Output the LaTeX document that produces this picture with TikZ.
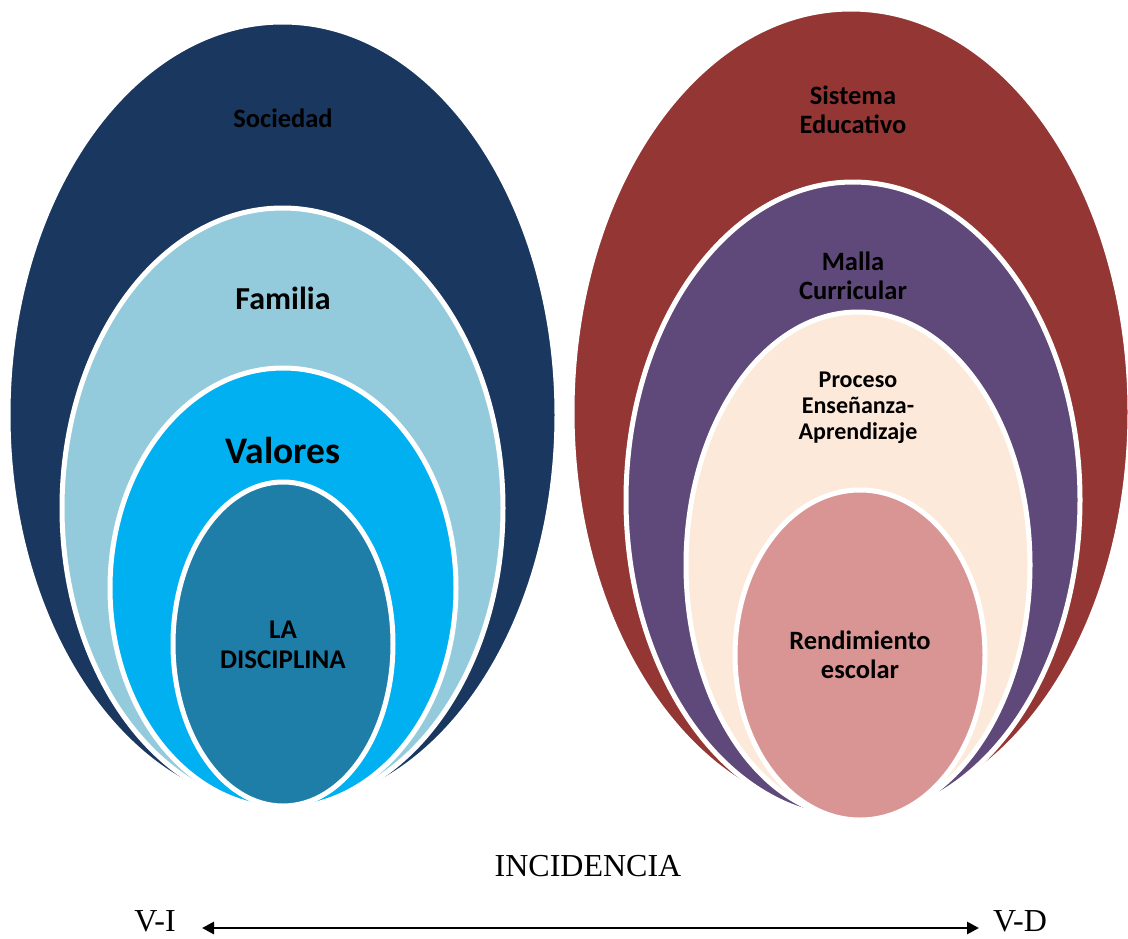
\documentclass[tikz,border=0pt]{standalone}
\usepackage{fontspec}
\setmainfont{Liberation Serif}
\newfontfamily\calib{Carlito}
\usetikzlibrary{shapes.geometric,arrows.meta}
\definecolor{cNavy}{HTML}{19375F}
\definecolor{cLight}{HTML}{93CBDC}
\definecolor{cCyan}{HTML}{00B0F0}
\definecolor{cDisc}{HTML}{1F7EA8}
\definecolor{cRed}{HTML}{943634}
\definecolor{cPurple}{HTML}{5F497A}
\definecolor{cPeach}{HTML}{FDE9D9}
\definecolor{cPink}{HTML}{D99594}
\tikzset{
  oval/.style={ellipse, draw=white, line width=5pt, inner sep=0pt},
  lbl/.style={font=\calib\bfseries, align=center, text=black},
  serif/.style={font=\fontsize{32}{36}\selectfont, inner sep=0pt}
}
\begin{document}
\begin{tikzpicture}[x=1pt,y=-1pt]
\useasboundingbox (0,0) rectangle (1128,938);
% left group
\node[oval, fill=cNavy, minimum width=549pt, minimum height=786pt] (soc) at (282.5,415) {};
\node[oval, fill=cLight, minimum width=441pt, minimum height=600pt] (fam) at (282.5,508) {};
\node[oval, fill=cCyan, minimum width=346pt, minimum height=440pt] (val) at (283,588) {};
\node[oval, fill=cDisc, minimum width=220pt, minimum height=324pt] (dis) at (283,644) {};
% right group
\node[oval, fill=cRed, minimum width=558pt, minimum height=806pt] (sis) at (851,412) {};
\node[oval, fill=cPurple, minimum width=454pt, minimum height=636pt] (mal) at (853,500) {};
\node[oval, fill=cPeach, minimum width=344pt, minimum height=506pt] (pro) at (858,565) {};
\node[oval, fill=cPink, minimum width=250pt, minimum height=330pt] (ren) at (860,655) {};
% labels
\node[lbl, font=\calib\bfseries\fontsize{26.5}{29}\selectfont] (tsoc) at (283,118) {Sociedad};
\node[lbl, font=\calib\bfseries\fontsize{32}{35}\selectfont] (tfam) at (283,298) {Familia};
\node[lbl, font=\calib\bfseries\fontsize{37.5}{40}\selectfont] (tval) at (283,450) {Valores};
\node[lbl, font=\calib\bfseries\fontsize{27}{30}\selectfont] (tdis) at (283,645) {LA\\DISCIPLINA};
\node[lbl, font=\calib\bfseries\fontsize{26.5}{29}\selectfont] (tsis) at (853,110) {Sistema\\Educativo};
\node[lbl, font=\calib\bfseries\fontsize{26.5}{29}\selectfont] (tmal) at (853,276) {Malla\\Curricular};
\node[lbl, font=\calib\bfseries\fontsize{24}{26}\selectfont] (tpro) at (858,408) {Proceso\\Enseñanza-\\Aprendizaje};
\node[lbl, font=\calib\bfseries\fontsize{26.5}{29}\selectfont] (tren) at (860,655) {Rendimiento\\escolar};
% bottom
\node[serif] (inc) at (588,866) {INCIDENCIA};
\node[serif] (vi) at (155,921) {V-I};
\node[serif] (vd) at (1020,921) {V-D};
\coordinate (a1) at (202,928);
\coordinate (a2) at (979,928);
\draw[line width=2.8pt, {Triangle[length=12pt,width=12pt]}-{Triangle[length=12pt,width=12pt]}] (a1) -- (a2);
\end{tikzpicture}
\end{document}
